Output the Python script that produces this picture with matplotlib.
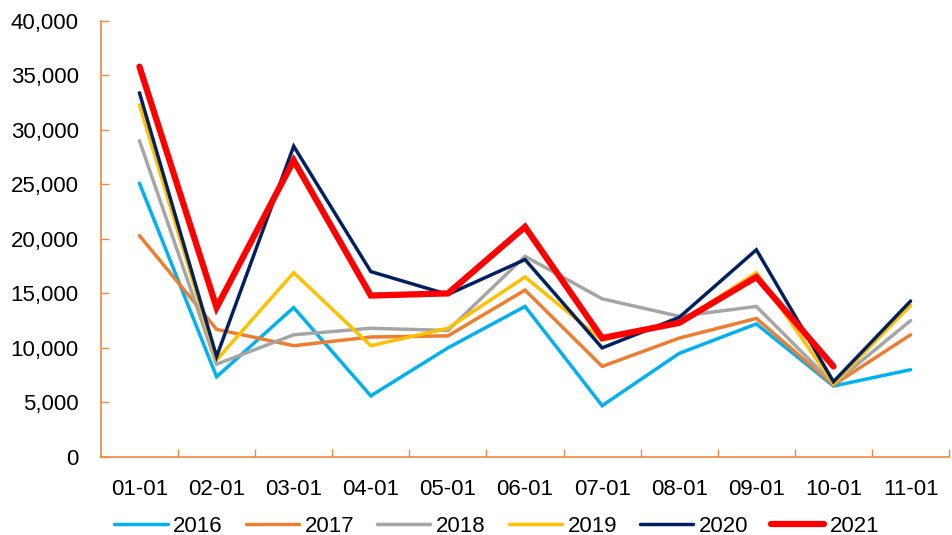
import numpy as np
from matplotlib import pyplot as plt
from matplotlib.ticker import FuncFormatter, MultipleLocator

months = ['01-01', '02-01', '03-01', '04-01', '05-01', '06-01',
          '07-01', '08-01', '09-01', '10-01', '11-01']

y2016 = [25100, 7350, 13700, 5600, 10000, 13800, 4700, 9500, 12200, 6500, 8000]
y2017 = [20300, 11700, 10200, 11000, 11100, 15300, 8300, 10900, 12700, 6600, 11200]
y2018 = [29000, 8500, 11200, 11800, 11600, 18400, 14500, 12900, 13800, 6700, 12500]
y2019 = [32300, 8900, 16900, 10200, 11800, 16500, 10700, 12300, 16900, 6700, 13900]
y2020 = [33400, 9200, 28500, 17000, 14900, 18100, 10000, 12800, 19000, 6900, 14300]
y2021 = [35800, 13700, 27200, 14800, 15000, 21100, 10900, 12300, 16500, 8300]

series = [
    ('2016', y2016, '#00B0F0', 2.5),
    ('2017', y2017, '#ED7D31', 2.5),
    ('2018', y2018, '#A5A5A5', 2.5),
    ('2019', y2019, '#FFC000', 2.5),
    ('2020', y2020, '#002060', 2.5),
    ('2021', y2021, '#FF0000', 4.5),
]

plt.rcParams['font.family'] = ['Liberation Sans', 'DejaVu Sans']
axis_color = '#F0883E'

fig = plt.figure(figsize=(9.52, 5.35), dpi=100)
ax = fig.add_axes([0.106, 0.146, 0.891, 0.815])

x = np.arange(len(months))
for name, vals, color, lw in series:
    ax.plot(x[:len(vals)], vals, color=color, lw=lw, label=name,
            solid_capstyle='round', solid_joinstyle='miter')

ax.set_xlim(-0.5, len(months) - 0.5)
ax.set_ylim(0, 40000)

# y axis: thousands separators, ticks pointing inward
ax.yaxis.set_major_locator(MultipleLocator(5000))
ax.yaxis.set_major_formatter(FuncFormatter(lambda v, p: f'{int(v):,}'))
ax.tick_params(axis='y', direction='in', length=6, width=1, color=axis_color,
               labelsize=16, pad=16)

# x axis: labels at centres, tick marks between categories
ax.set_xticks(x)
ax.set_xticklabels(months)
ax.set_xticks(np.arange(0.5, len(months), 1), minor=True)
ax.tick_params(axis='x', which='major', length=0, labelsize=16, pad=16)
ax.tick_params(axis='x', which='minor', direction='in', length=6, width=1,
               color=axis_color)

for side in ['top', 'right']:
    ax.spines[side].set_visible(False)
for side in ['left', 'bottom']:
    ax.spines[side].set_color(axis_color)
    ax.spines[side].set_linewidth(1.2)

fig.legend(loc='center', bbox_to_anchor=(0.522, 0.016), ncol=6, frameon=False,
           fontsize=16, handlelength=2.4, handletextpad=0.25, columnspacing=1.03)

plt.savefig('out.png', dpi=100)
